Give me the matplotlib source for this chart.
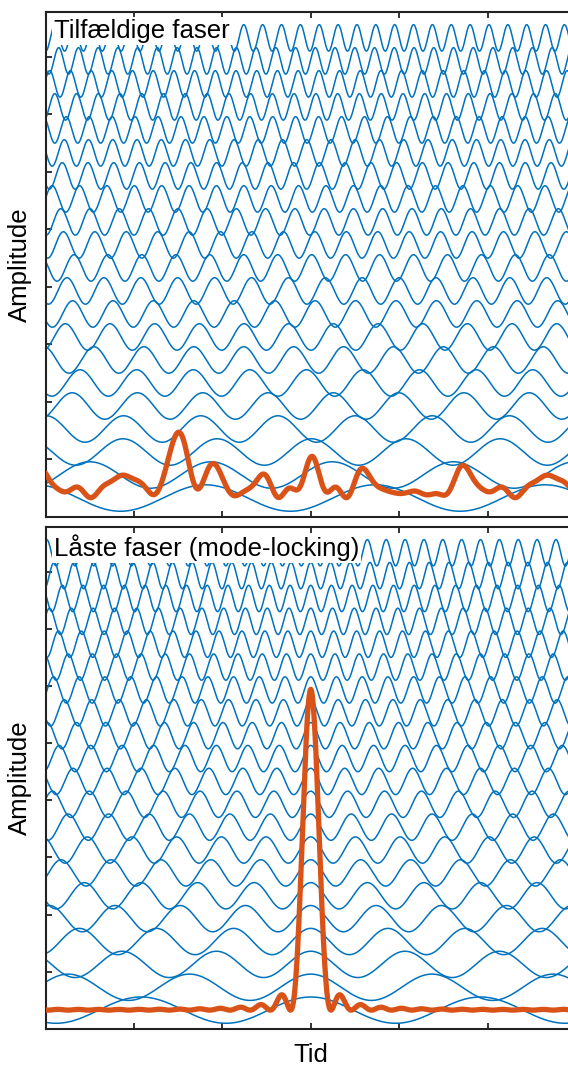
import numpy as np
import matplotlib
matplotlib.use('Agg')
import matplotlib.pyplot as plt

# MATLAB-like look
plt.rcParams['font.family'] = ['Liberation Sans', 'DejaVu Sans']

BLUE = '#0072BD'
ORANGE = '#D95319'

# laser modes: cycles per pulse period
mode_numbers = [2.5, 3.5, 4.5, 5.5, 6.5, 7.5, 8.5, 9.5, 10.5, 11.5, 12.5,
                13.5, 14.5, 15.5, 16.5, 17.5, 18.5, 19.5, 20.5, 21.5, 22.5]
pulse_period = 4.80   # in x-tick units

# phases (rad) of each mode, top panel
random_phases = [3.90, 5.17, 6.23, 2.67, 4.11, 0.48, 2.15,
                 3.10, 5.60, 3.80, 6.11, 5.46, 3.40, 2.78,
                 4.15, 1.03, 4.13, 4.79, 3.83, 4.83, 3.46]
# bottom panel: all modes in phase
locked_phases = [0.0] * len(mode_numbers)

panel_labels = ['Tilfældige faser', 'Låste faser (mode-locking)']

base = 0.33        # height of lowest wave / intensity baseline
spacing = 0.4      # vertical distance between waves
wave_amp = 0.23
int_scale = 5.61 / len(mode_numbers) ** 2

fig = plt.figure(figsize=(5.68, 10.68), dpi=100)
ax_top = fig.add_axes([45.5 / 568, 551 / 1068, 530.5 / 568, 505 / 1068])
ax_bot = fig.add_axes([45.5 / 568, 39 / 1068, 530.5 / 568, 502 / 1068])

t = np.linspace(-3, 3, 3000)
omega = 2 * np.pi * np.array(mode_numbers) / pulse_period

for ax, phases, label, ty in [(ax_top, random_phases, panel_labels[0], 0.962),
                              (ax_bot, locked_phases, panel_labels[1], 0.958)]:
    field = np.zeros(len(t), dtype=complex)
    for i, (w, p) in enumerate(zip(omega, phases)):
        ax.plot(t, base + spacing * i + wave_amp * np.cos(w * t + p), color=BLUE, lw=1.1)
        field += np.exp(1j * (w * t + p))
    # intensity of the summed field
    ax.plot(t, base + int_scale * np.abs(field) ** 2, color=ORANGE, lw=3.8,
            solid_capstyle='round', zorder=5)
    ax.text(0.016, ty, label, transform=ax.transAxes, fontsize=18.5,
            va='center', ha='left', zorder=10,
            bbox=dict(facecolor='white', edgecolor='none', pad=1.5))
    ax.set_xlim(-3, 3)
    ax.set_ylim(0, 8.78)
    ax.set_xticks(range(-2, 3))
    ax.set_yticks(range(1, 9))
    ax.tick_params(direction='in', length=4, width=1.3, top=True, right=True,
                   labelleft=False, labelbottom=False, color='#222222')
    for s in ax.spines.values():
        s.set_linewidth(1.5)
        s.set_color('#222222')

fig.text(20 / 568, 1 - 265 / 1068, 'Amplitude', rotation=90, fontsize=18.5,
         ha='center', va='center')
fig.text(20 / 568, 1 - 778 / 1068, 'Amplitude', rotation=90, fontsize=18.5,
         ha='center', va='center')
fig.text(311 / 568, 1 - 1055 / 1068, 'Tid', fontsize=18.5, ha='center', va='center')

fig.savefig('out.png', dpi=100)
